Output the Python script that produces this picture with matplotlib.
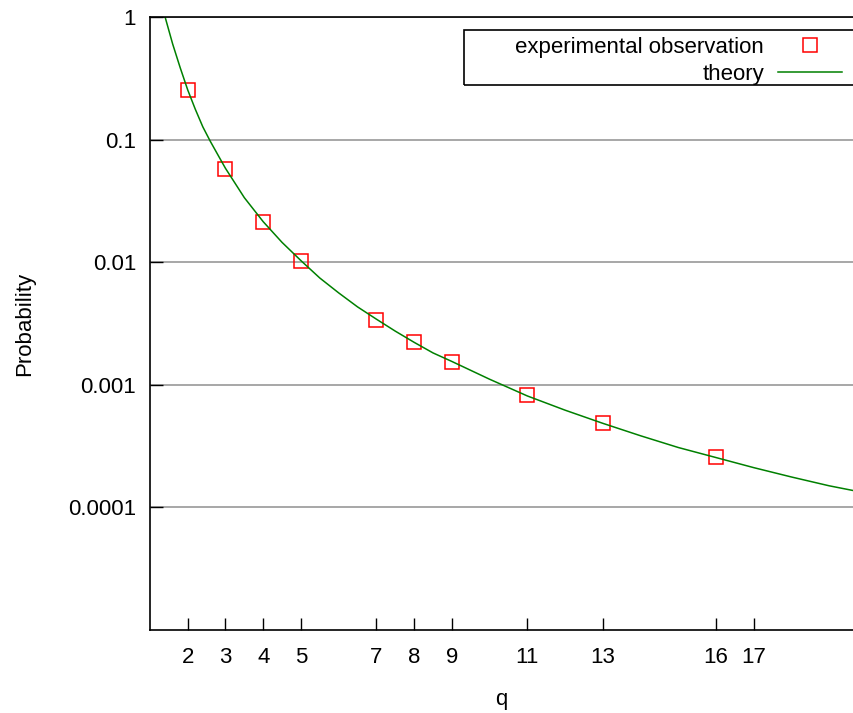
import numpy as np
import matplotlib.pyplot as plt
from matplotlib.patches import Rectangle
from matplotlib.ticker import NullLocator

plt.rcParams['font.family'] = ['Liberation Sans', 'DejaVu Sans']

# experimental points
q_obs = [2, 3, 4, 5, 7, 8, 9, 11, 13, 16]
p_obs = [0.254, 0.0575, 0.0213, 0.0102, 0.00338, 0.00223, 0.00153,
         0.000826, 0.000488, 0.000258]

# theory curve
q_th = [1.40, 1.6, 1.8, 2.0, 2.2, 2.4, 2.6, 2.8, 3.0, 3.5, 4.0, 4.5, 5.0,
        5.5, 6.0, 6.5, 7.0, 7.5, 8.0, 8.5, 9.0, 10, 11, 12, 13, 14, 15, 16,
        17, 18, 19, 19.65]
p_th = [1.0, 0.603, 0.386, 0.254, 0.177, 0.127, 0.0966, 0.0750, 0.0583,
        0.0336, 0.0214, 0.0145, 0.0103, 0.00743, 0.00562, 0.00432, 0.00343,
        0.00274, 0.00222, 0.00182, 0.00155, 0.00111, 0.000811, 0.000621,
        0.000485, 0.000384, 0.000308, 0.000255, 0.000211, 0.000177,
        0.000150, 0.000137]

xticks = [2, 3, 4, 5, 7, 8, 9, 11, 13, 16, 17]
yticks = [1e-4, 1e-3, 1e-2, 1e-1, 1]
ylabels = ['0.0001', '0.001', '0.01', '0.1', '1']

fig = plt.figure(figsize=(8.54, 7.13), dpi=100)
ax = fig.add_axes([150 / 854, 83 / 713, 703 / 854, 613 / 713])

ax.plot(q_obs, p_obs, 's', ms=10, mfc='none', mec='#ff0000', mew=1.1,
        label='experimental observation')
ax.plot(q_th, p_th, '-', color='#008000', lw=1.1, label='theory')

ax.set_yscale('log')
ax.set_xlim(1, 19.63)
ax.set_ylim(1e-5, 1)
ax.set_xticks(xticks)
ax.set_xticklabels([str(t) for t in xticks])
ax.set_yticks(yticks)
ax.set_yticklabels(ylabels)
ax.yaxis.set_minor_locator(NullLocator())
ax.xaxis.set_minor_locator(NullLocator())

ax.tick_params(direction='in', length=9, width=1, labelsize=16, color='black')
ax.tick_params(axis='x', pad=12)
ax.tick_params(axis='y', pad=10)
ax.grid(axis='y', color='#a0a0a0', lw=1.3)
ax.set_axisbelow(True)

for s in ['left', 'bottom', 'top']:
    ax.spines[s].set_linewidth(1.2)
ax.spines['right'].set_visible(False)

ax.set_xlabel('q', fontsize=16, labelpad=15)
ax.set_ylabel('Probability', fontsize=16, labelpad=24)

# legend without its own frame, gnuplot-style wide box drawn separately
leg = ax.legend(loc='upper right', bbox_to_anchor=(848 / 854, 1 - 31 / 713),
                bbox_transform=fig.transFigure, markerfirst=False,
                fontsize=16, handlelength=2.9, handletextpad=0.63,
                labelspacing=0.3, borderaxespad=0, borderpad=0.25,
                frameon=False)
fig.patches.append(Rectangle((464 / 854, 1 - 85 / 713), 406 / 854, 55 / 713,
                             transform=fig.transFigure, fill=False,
                             edgecolor='black', lw=1.2))

fig.savefig('out.png', dpi=100)
